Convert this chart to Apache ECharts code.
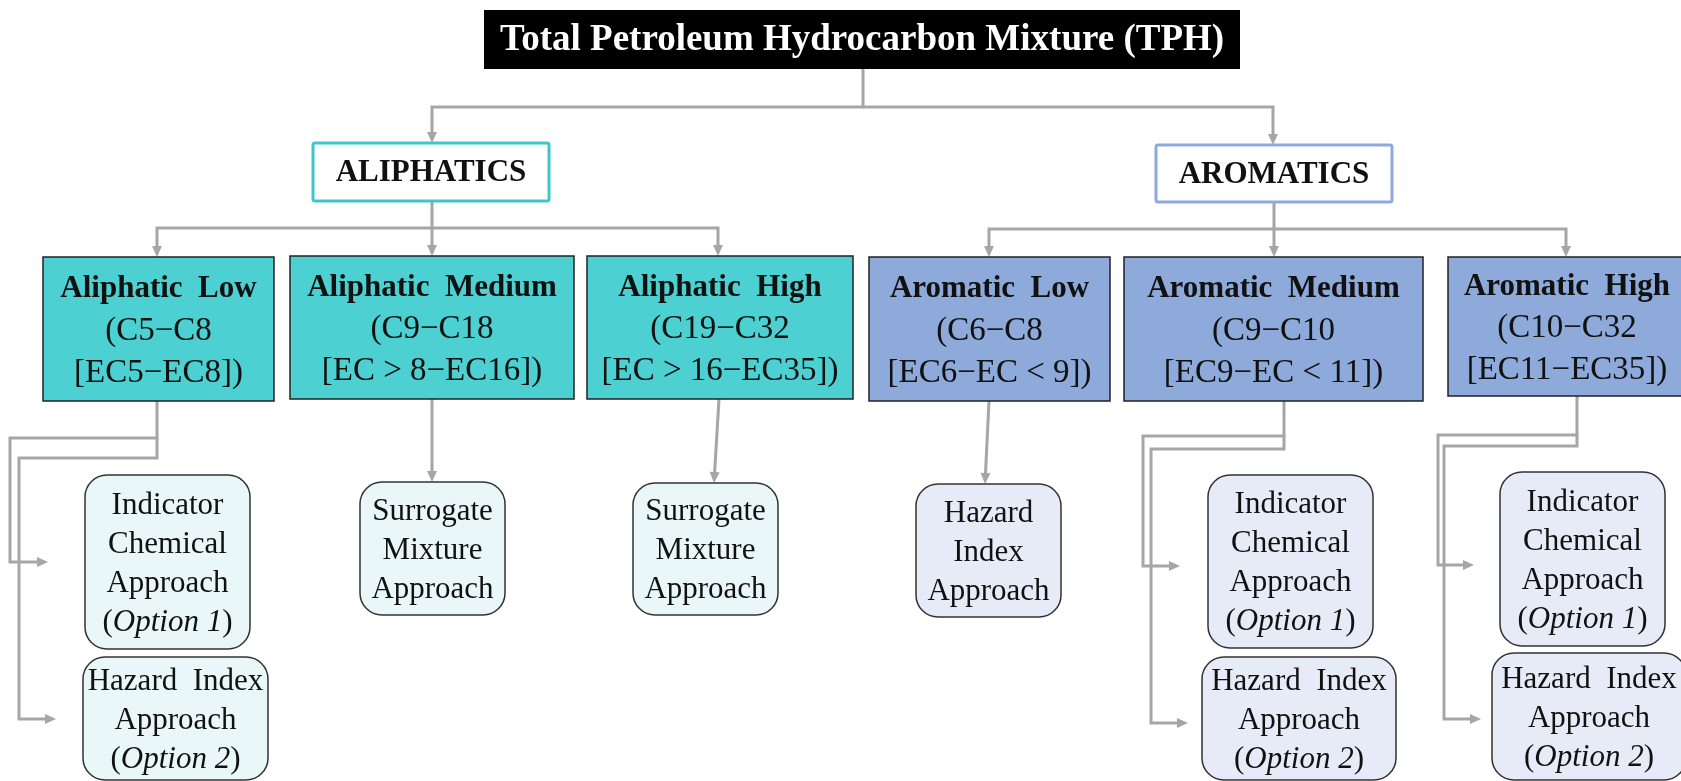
<!DOCTYPE html>
<html>
<head>
<meta charset="utf-8">
<script src="https://cdn.jsdelivr.net/npm/echarts@6/dist/echarts.min.js"></script>
<style>
  html, body { margin: 0; padding: 0; background: #fff; }
  #main { width: 1681px; height: 781px; }
</style>
</head>
<body>
<div id="main"></div>
<script>
// ---- content ----
const title = 'Total Petroleum Hydrocarbon Mixture (TPH)';
const groups = ['ALIPHATICS', 'AROMATICS'];
const fractions = ['Aliphatic  Low', 'Aliphatic  Medium', 'Aliphatic  High',
                   'Aromatic  Low', 'Aromatic  Medium', 'Aromatic  High'];
const carbonRanges = ['(C5−C8', '(C9−C18', '(C19−C32', '(C6−C8', '(C9−C10', '(C10−C32'];
const ecRanges = ['[EC5−EC8])', '[EC > 8−EC16])', '[EC > 16−EC35])',
                  '[EC6−EC < 9])', '[EC9−EC < 11])', '[EC11−EC35])'];
const opt1 = 'Indicator\nChemical\nApproach\n({i|Option 1})';
const opt2 = 'Hazard  Index\nApproach\n({i|Option 2})';
const surrogate = 'Surrogate\nMixture\nApproach';
const hazard = 'Hazard\nIndex\nApproach';
const approaches = [opt1, opt2, surrogate, surrogate, hazard, opt1, opt2, opt1, opt2];
const approachParent = [0, 0, 1, 2, 3, 4, 4, 5, 5];

// ---- layout (canvas units, used through the hidden axes) ----
const titleBox = [484, 10, 1240, 69];
const groupBoxes = [[313, 143, 549, 201], [1156, 145, 1392, 202]];
const fractionBoxes = [[43, 257, 274, 401], [290, 256, 574, 399], [587, 256, 853, 399],
                       [869, 257, 1110, 401], [1124, 257, 1423, 401], [1448, 257, 1686, 396]];
const approachBoxes = [[85, 475, 250, 649], [83, 657, 268, 780], [360, 482, 505, 615],
                       [633, 483, 778, 615], [916, 484, 1061, 617], [1208, 475, 1373, 648],
                       [1202, 657, 1396, 780], [1500, 472, 1665, 646], [1492, 653, 1686, 780]];
const connectors = [
  [[863, 69], [863, 107], [432, 107], [432, 143]],
  [[863, 107], [1273, 107], [1273, 145]],
  [[432, 201], [432, 228], [157, 228], [157, 257]],
  [[432, 228], [432, 256]],
  [[432, 228], [718, 228], [718, 256]],
  [[1274, 202], [1274, 229], [989, 229], [989, 257]],
  [[1274, 229], [1274, 257]],
  [[1274, 229], [1566, 229], [1566, 257]],
  [[157, 401], [157, 438], [10, 438], [10, 562], [48, 562]],
  [[157, 438], [157, 458], [19, 458], [19, 719], [56, 719]],
  [[432, 399], [432, 482]],
  [[719, 399], [714, 483]],
  [[989, 401], [985, 484]],
  [[1284, 401], [1284, 436], [1143, 436], [1143, 566], [1180, 566]],
  [[1284, 436], [1284, 449], [1151, 449], [1151, 723], [1188, 723]],
  [[1577, 396], [1577, 435], [1438, 435], [1438, 565], [1474, 565]],
  [[1577, 435], [1577, 446], [1444, 446], [1444, 719], [1481, 719]]
];

const FONT = '"Liberation Serif", "Times New Roman", serif';
const LINE = '#a6a6a6';

// build the box list
const boxes = [];
boxes.push({ rect: titleBox, text: title, kind: 'title' });
groups.forEach((g, i) => boxes.push({ rect: groupBoxes[i], text: g, kind: i === 0 ? 'aliGroup' : 'aroGroup' }));
fractions.forEach((f, i) => boxes.push({
  rect: fractionBoxes[i],
  text: '{b|' + f + '}\n' + carbonRanges[i] + '\n' + ecRanges[i],
  kind: i < 3 ? 'aliFrac' : 'aroFrac'
}));
approaches.forEach((a, i) => boxes.push({
  rect: approachBoxes[i], text: a, kind: approachParent[i] < 3 ? 'aliApp' : 'aroApp'
}));

const styles = {
  title:    { fill: '#000', stroke: null, lw: 0, r: 0, color: '#fff', size: 37, weight: 'bold', lh: 42, dy: 1 },
  aliGroup: { fill: '#fff', stroke: '#3fc6c8', lw: 3, r: 2, color: '#111', size: 31, weight: 'bold', lh: 36, dy: 1 },
  aroGroup: { fill: '#fff', stroke: '#8eaadc', lw: 3, r: 2, color: '#111', size: 31, weight: 'bold', lh: 36, dy: 1 },
  aliFrac:  { fill: '#4dd0d1', stroke: '#222', lw: 1.5, r: 0, color: '#111', size: 33, weight: 'normal', lh: 42, dy: 2 },
  aroFrac:  { fill: '#8eaadb', stroke: '#222', lw: 1.5, r: 0, color: '#111', size: 33, weight: 'normal', lh: 42, dy: 2 },
  aliApp:   { fill: '#e9f7f8', stroke: '#333', lw: 1.5, r: 22, color: '#111', size: 31, weight: 'normal', lh: 39, dy: 2 },
  aroApp:   { fill: '#e6ebf7', stroke: '#333', lw: 1.5, r: 22, color: '#111', size: 31, weight: 'normal', lh: 39, dy: 2 }
};

function renderBox(params, api) {
  const b = boxes[params.dataIndex];
  const s = styles[b.kind];
  const p0 = api.coord([api.value(0), api.value(1)]);
  const p1 = api.coord([api.value(2), api.value(3)]);
  const w = p1[0] - p0[0], h = p1[1] - p0[1];
  return {
    type: 'group',
    children: [
      { type: 'rect', shape: { x: p0[0], y: p0[1], width: w, height: h, r: s.r },
        style: { fill: s.fill, stroke: s.stroke, lineWidth: s.lw } },
      { type: 'text', style: {
          x: p0[0] + w / 2, y: p0[1] + h / 2 + s.dy, text: b.text, align: 'center', verticalAlign: 'middle',
          fontFamily: FONT, fontSize: s.size, fontWeight: s.weight, lineHeight: s.lh, fill: s.color,
          rich: {
            b: { fontFamily: FONT, fontSize: 31, fontWeight: 'bold', lineHeight: s.lh, fill: s.color },
            i: { fontFamily: FONT, fontSize: s.size, fontStyle: 'italic', lineHeight: s.lh, fill: s.color }
          }
      } }
    ]
  };
}

function renderConnector(params, api) {
  const pts = connectors[api.value(0)].map(p => api.coord(p));
  const n = pts.length;
  const tip = pts[n - 1], prev = pts[n - 2];
  const dx = tip[0] - prev[0], dy = tip[1] - prev[1];
  const len = Math.sqrt(dx * dx + dy * dy);
  const ux = dx / len, uy = dy / len;
  const al = 11, aw = 5;
  const base = [tip[0] - ux * al, tip[1] - uy * al];
  const line = pts.slice(0, n - 1).concat([[tip[0] - ux * al * 0.6, tip[1] - uy * al * 0.6]]);
  return {
    type: 'group',
    children: [
      { type: 'polyline', shape: { points: line }, style: { stroke: LINE, lineWidth: 3, fill: null } },
      { type: 'polygon', shape: { points: [tip, [base[0] - uy * aw, base[1] + ux * aw], [base[0] + uy * aw, base[1] - ux * aw]] },
        style: { fill: LINE } }
    ]
  };
}

const chart = echarts.init(document.getElementById('main'));
chart.setOption({
  backgroundColor: '#fff',
  animation: false,
  grid: { left: 0, right: 0, top: 0, bottom: 0 },
  xAxis: { type: 'value', min: 0, max: 1681, show: false },
  yAxis: { type: 'value', min: 0, max: 781, inverse: true, show: false },
  series: [
    {
      type: 'custom', name: 'connectors', clip: false, z: 1,
      renderItem: renderConnector,
      data: connectors.map((c, i) => [i])
    },
    {
      type: 'custom', name: 'boxes', clip: false, z: 2,
      renderItem: renderBox,
      data: boxes.map(b => b.rect)
    }
  ]
});
</script>
</body>
</html>
